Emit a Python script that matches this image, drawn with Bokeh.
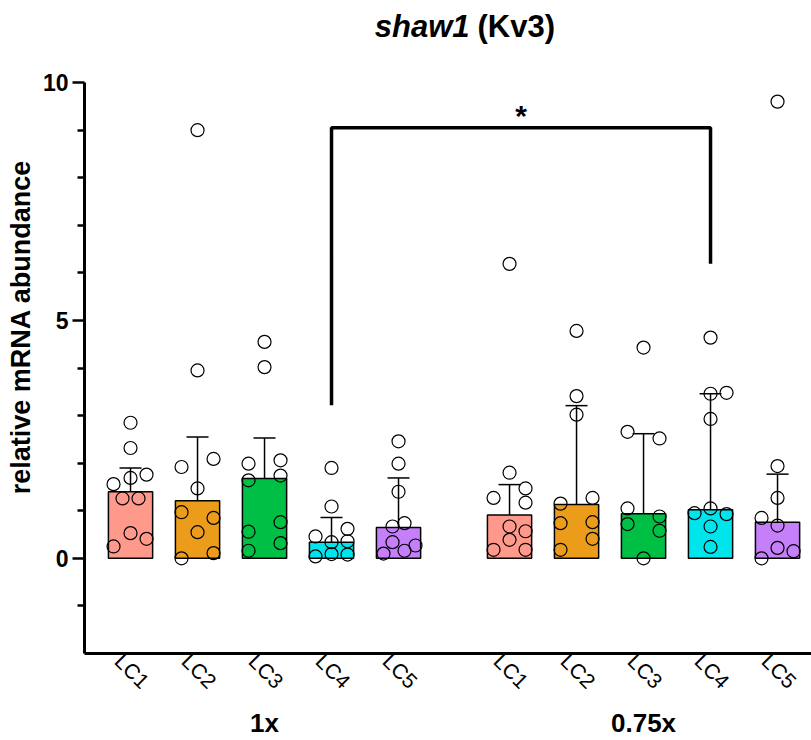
import math
from bokeh.plotting import figure
from bokeh.models import (Range1d, FixedTicker, LinearAxis, CustomJSTickFormatter,
                          Whisker, TeeHead, ColumnDataSource, Label)
from bokeh.embed import file_html
from bokeh.resources import INLINE

# ---------------- data ----------------
categories = ["LC1", "LC2", "LC3", "LC4", "LC5"]
groups = ["1x", "0.75x"]
colors = ["#FF998C", "#EB9C1B", "#00BF45", "#00E4EC", "#C57FF8"]

bar_1x = [1.40, 1.21, 1.68, 0.34, 0.65]
err_lo_1x = [0.50, 0.43, 0.50, 0.07, 0.22]
err_hi_1x = [1.90, 2.55, 2.53, 0.86, 1.69]

bar_075x = [0.91, 1.13, 0.94, 1.02, 0.76]
err_lo_075x = [0.34, 0.57, 0.61, 0.80, 0.15]
err_hi_075x = [1.55, 3.21, 2.62, 3.46, 1.77]

pts_1x = [
    [2.85, 2.32, 1.69, 1.56, 1.76, 1.26, 1.26, 0.53, 0.41, 0.25],
    [9.00, 3.95, 1.92, 2.09, 1.47, 0.97, 0.85, 0.55, 0.00, 0.11],
    [4.55, 4.02, 1.99, 2.06, 1.74, 1.64, 0.76, 0.56, 0.32, 0.16],
    [1.90, 1.09, 0.46, 0.62, 0.34, 0.36, 0.04, 0.09, 0.08],
    [2.46, 1.99, 1.40, 0.67, 0.74, 0.34, 0.16, 0.27, 0.10],
]
pts_075x = [
    [6.19, 1.80, 1.27, 1.47, 1.17, 0.67, 0.57, 0.39, 0.18, 0.18],
    [4.78, 3.41, 3.02, 1.15, 1.27, 0.74, 0.76, 0.41, 0.18],
    [4.43, 2.66, 2.52, 1.05, 0.88, 0.72, 0.58, 0.00],
    [4.64, 3.46, 3.48, 2.93, 0.95, 1.05, 0.93, 0.67, 0.24],
    [9.60, 1.94, 1.27, 0.85, 0.69, 0.22, 0.15, 0.00],
]

# significance bracket (LC4 1x vs LC4 0.75x)
bracket_top = 9.05
bracket_left_end = 3.22
bracket_right_end = 6.19
sig_text = "*"

title_italic = "shaw1"
title_rest = "(Kv3)"

y_major = [0, 5, 10]
y_minor = [-1, 1, 2, 3, 4, 6, 7, 8, 9]
y_axis_min, y_axis_max = -2, 10

# ---------------- layout (positions / styles) ----------------
GROUP_OFFSET = 5.657
UNIT_PX = 67.0
Y_TOP = 11.726          # frame extends above the axis to hold the title
jit_1x = [
    [0, 0, 0, -17, 16, -8, 8, 0, 16, -17],
    [0, 0, -16, 16, 0, -16, 16, 0, -16, 16],
    [0, 0, -16, 16, 16, -16, 16, -16, 16, -16],
    [0, 0, -16, 16, 0, 16, -16, 0, 16],
    [0, 0, 0, -6, 6, -6, 6, 17, -15],
]
jit_075x = [
    [0, 0, -16, 16, 16, 0, 16, 0, -16, 16],
    [0, 0, 0, -16, 16, -16, 16, 16, -16],
    [0, -16, 16, -16, 16, -16, 16, 0],
    [0, 0, 16, 0, -16, 0, 16, 0, 0],
    [0, 0, 0, -16, 0, 0, 16, -16],
]

FONT = "Liberation Sans"

p = figure(width=811, height=740, output_backend="svg", toolbar_location=None,
           x_range=Range1d(-0.687, 10.164), y_range=Range1d(y_axis_min, Y_TOP),
           min_border_left=84, min_border_right=0, min_border_top=0,
           min_border_bottom=87)
p.outline_line_color = None
p.xgrid.visible = False
p.ygrid.visible = False
p.background_fill_color = "white"
p.border_fill_color = "white"

# bars
xs, tops, lo, hi, cols = [], [], [], [], []
for gi, (bars, l, h) in enumerate([(bar_1x, err_lo_1x, err_hi_1x),
                                   (bar_075x, err_lo_075x, err_hi_075x)]):
    for ci in range(len(categories)):
        xs.append(ci + gi * GROUP_OFFSET)
        tops.append(bars[ci])
        lo.append(l[ci])
        hi.append(h[ci])
        cols.append(colors[ci])
src = ColumnDataSource(dict(x=xs, top=tops, lo=lo, hi=hi, color=cols))
p.vbar(x="x", top="top", bottom=0, width=0.66, fill_color="color",
       line_color="black", line_width=1.5, source=src)

# points
px, py = [], []
for gi, (pts, jit) in enumerate([(pts_1x, jit_1x), (pts_075x, jit_075x)]):
    for ci in range(len(categories)):
        for v, j in zip(pts[ci], jit[ci]):
            px.append(ci + gi * GROUP_OFFSET + j / UNIT_PX)
            py.append(v)
p.scatter(px, py, size=13, fill_alpha=0, line_color="black", line_width=1.2)

# error bars
wh = Whisker(source=src, base="x", upper="hi", lower="lo", line_width=1.5,
             line_color="black",
             upper_head=TeeHead(size=22, line_width=1.5, line_color="black"),
             lower_head=TeeHead(size=22, line_width=1.5, line_color="black"))
p.add_layout(wh)

# bracket
xl = 3
xr = 3 + GROUP_OFFSET
p.line([xl, xl, xr, xr], [bracket_left_end, bracket_top, bracket_top, bracket_right_end],
       line_color="black", line_width=3.5)
p.add_layout(Label(x=(xl + xr) / 2, y=bracket_top - 0.08, text=sig_text,
                   text_font=FONT, text_font_style="bold", text_font_size="30px",
                   text_color="black", text_align="center", text_baseline="bottom"))

# title (two styles)
TITLE_Y = 11.17
p.add_layout(Label(x=(469 - 130) / UNIT_PX, y=TITLE_Y, text=title_italic,
                   text_font=FONT, text_font_style="bold italic", text_color="black",
                   text_font_size="31px", text_align="right", text_baseline="middle"))
p.add_layout(Label(x=(477 - 130) / UNIT_PX, y=TITLE_Y, text=title_rest,
                   text_font=FONT, text_font_style="bold", text_color="black",
                   text_font_size="31px", text_align="left", text_baseline="middle"))

# y axis
ya = p.yaxis[0]
ya.bounds = (y_axis_min, y_axis_max)
ya.ticker = FixedTicker(ticks=y_major, minor_ticks=y_minor)
ya.axis_label = "relative mRNA abundance"
ya.axis_label_text_font = FONT
ya.axis_label_text_font_style = "bold"
ya.axis_label_text_font_size = "27px"
ya.axis_label_text_color = "black"
ya.axis_label_standoff = 4
ya.major_label_text_font = FONT
ya.major_label_text_font_style = "bold"
ya.major_label_text_font_size = "23px"
ya.major_label_text_color = "black"
ya.axis_line_width = 3
ya.axis_line_color = "black"
ya.major_tick_line_color = "black"
ya.minor_tick_line_color = "black"
ya.major_tick_line_width = 2.5
ya.minor_tick_line_width = 2.5
ya.major_tick_in = 0
ya.major_tick_out = 12
ya.minor_tick_in = 0
ya.minor_tick_out = 7
ya.major_label_standoff = 4

# x axis with category labels
LABEL_SHIFT = -12 / UNIT_PX
xa = p.xaxis[0]
xa.ticker = FixedTicker(ticks=[x + LABEL_SHIFT for x in xs], minor_ticks=[])
xa.formatter = CustomJSTickFormatter(args=dict(labels=categories * len(groups)),
                                     code="return labels[index]")
xa.major_label_orientation = -math.pi / 4
xa.major_label_text_font = FONT
xa.major_label_text_font_size = "21px"
xa.major_label_text_font_style = "normal"
xa.major_label_text_color = "black"
xa.axis_line_width = 3
xa.axis_line_color = "black"
xa.major_tick_out = 0
xa.major_tick_in = 0
xa.minor_tick_out = 0
xa.minor_tick_in = 0
xa.major_label_standoff = 4

# group labels axis
ga = LinearAxis(ticker=FixedTicker(ticks=[2, 2 + GROUP_OFFSET], minor_ticks=[]),
                formatter=CustomJSTickFormatter(args=dict(labels=groups),
                                                code="return labels[index]"))
ga.axis_line_color = None
ga.major_tick_line_color = None
ga.minor_tick_line_color = None
ga.major_label_text_font = FONT
ga.major_label_text_font_style = "bold"
ga.major_label_text_font_size = "26px"
ga.major_label_text_color = "black"
ga.major_label_standoff = -3
p.add_layout(ga, "below")

open("out.html", "w").write(file_html(p, INLINE))
